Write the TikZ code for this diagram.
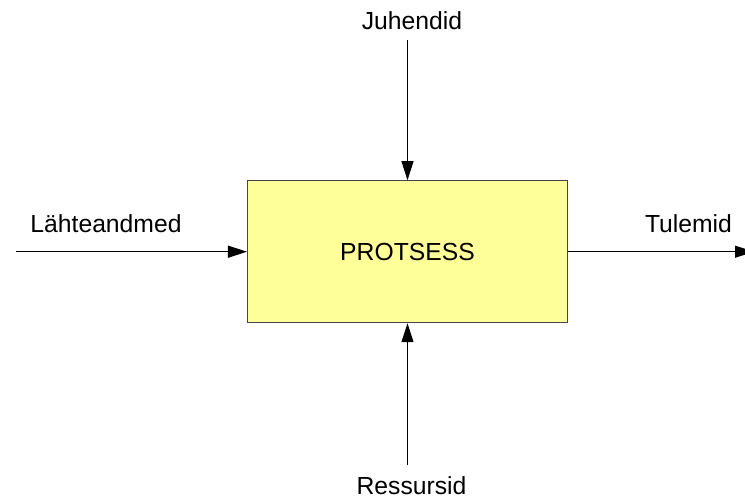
\documentclass[tikz,border=0pt]{standalone}
\usepackage{fontspec}
\setmainfont{Liberation Sans}
\usetikzlibrary{positioning,calc,arrows,arrows.meta}
\tikzset{font=\fontsize{14.06}{17}\selectfont}
\definecolor{boxfill}{RGB}{255,255,153}
\definecolor{boxline}{RGB}{70,70,70}

\begin{document}
\begin{tikzpicture}[>={Triangle[length=0.38cm,width=0.24cm]}, line width=0.6pt]
	\useasboundingbox (-8.15, -4.946) rectangle (6.75, 5.034);
	\begin{scope}
		\tikzstyle{every node}=[align=center, inner sep=0pt]
		\node[draw=boxline, fill=boxfill, minimum width=6.4cm, minimum height=2.84cm] (prot) at (0, 0) {PROTSESS};

		\node[anchor=base] (lin) at (-6.03, 0.394) {Lähteandmed};
		\node[anchor=base] (lout) at (5.62, 0.394) {Tulemid};
		\node[anchor=base] (lctrl) at (0.09, 4.454) {Juhendid};
		\node[anchor=base] (lres) at (0.08, -4.86) {Ressursid};

		\coordinate (in) at (-7.83, 0);
		\coordinate (out) at (6.93, 0);
		\coordinate (ctrl) at (0, 4.234);
		\coordinate (res) at (0, -4.266);

		\draw[->] (in) -- (prot.west);
		\draw[->] (prot.east) -- (out);
		\draw[->] (ctrl) -- (prot.north);
		\draw[->] (res) -- (prot.south);
	\end{scope}
\end{tikzpicture}
\end{document}
